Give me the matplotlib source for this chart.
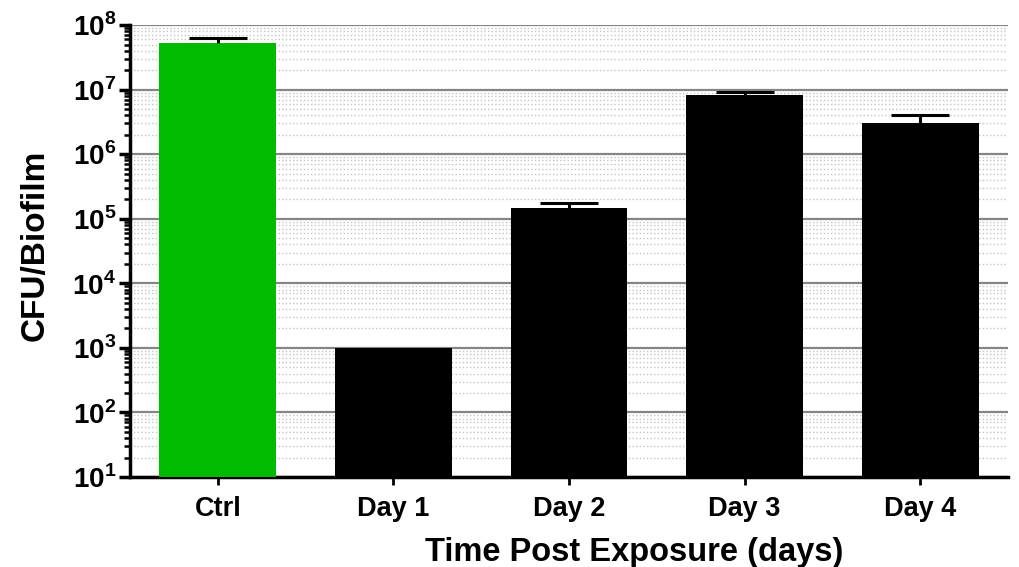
import numpy as np
import matplotlib
matplotlib.use("Agg")
import matplotlib.pyplot as plt
from matplotlib.ticker import LogLocator, FuncFormatter, NullFormatter

plt.rcParams['font.family'] = ['Liberation Sans', 'DejaVu Sans']
plt.rcParams['font.weight'] = 'bold'
plt.rcParams['mathtext.fontset'] = 'custom'
plt.rcParams['mathtext.rm'] = 'Liberation Sans:bold'
plt.rcParams['mathtext.bf'] = 'Liberation Sans:bold'

# CFU counts per biofilm after exposure
categories = ["Ctrl", "Day 1", "Day 2", "Day 3", "Day 4"]
cfu_mean = [5.3e7, 1.0e3, 1.47e5, 8.25e6, 3.1e6]
cfu_err_upper = [1.0e7, 0.0, 2.9e4, 0.85e6, 0.95e6]
bar_colors = ["#00bb00", "black", "black", "black", "black"]

fig = plt.figure(figsize=(10.19, 5.67), dpi=100)
ax = fig.add_axes([0.1276, 0.1587, 0.8616, 0.797])
ax.set_yscale('log')

x = np.arange(len(categories))
ax.bar(x, cfu_mean, width=0.665, color=bar_colors, zorder=3)

# upward-only error bars, skipping groups without spread
has_err = [i for i, e in enumerate(cfu_err_upper) if e > 0]
_, caps, _ = ax.errorbar(x[has_err], np.array(cfu_mean)[has_err],
                         yerr=[np.zeros(len(has_err)), np.array(cfu_err_upper)[has_err]],
                         fmt='none', ecolor='black', elinewidth=2.2, capsize=21,
                         capthick=2.2, zorder=4)
caps[0].set_visible(False)  # no cap at the bar top

ax.set_ylim(1e1, 1e8)
ax.set_xlim(-0.5, 4.5)

ax.yaxis.set_major_locator(LogLocator(base=10, numticks=12))
ax.yaxis.set_minor_locator(LogLocator(base=10, subs=np.arange(2, 10), numticks=12))
ax.yaxis.set_major_formatter(FuncFormatter(lambda v, p: r'$10^{%d}$' % int(round(np.log10(v)))))
ax.yaxis.set_minor_formatter(NullFormatter())

ax.set_xticks(x)
ax.set_xticklabels(categories)

ax.grid(True, which='major', axis='y', color='#858585', linewidth=1.6, zorder=1)
ax.grid(True, which='minor', axis='y', color='#c4c4c4', linewidth=1.0,
        linestyle=(0, (1, 1.6)), zorder=1)
ax.set_axisbelow(True)

for s in ['top', 'right']:
    ax.spines[s].set_visible(False)
for s in ['left', 'bottom']:
    ax.spines[s].set_linewidth(2.5)
    ax.spines[s].set_color('black')

ax.tick_params(axis='y', which='major', length=8, width=2.5, labelsize=20, pad=2)
ax.tick_params(axis='y', which='minor', length=4.5, width=1.8)
ax.tick_params(axis='x', which='major', length=6, width=2, labelsize=19.5, pad=8)

for lab in ax.get_xticklabels():
    lab.set_fontweight('bold')

ax.set_ylabel('CFU/Biofilm', fontsize=24, fontweight='bold')
ax.yaxis.set_label_coords(-0.090, 0.513)
ax.set_xlabel('Time Post Exposure (days)', fontsize=23.5, fontweight='bold')
ax.xaxis.set_label_coords(0.574, -0.132)

fig.savefig('out.png', dpi=100)
